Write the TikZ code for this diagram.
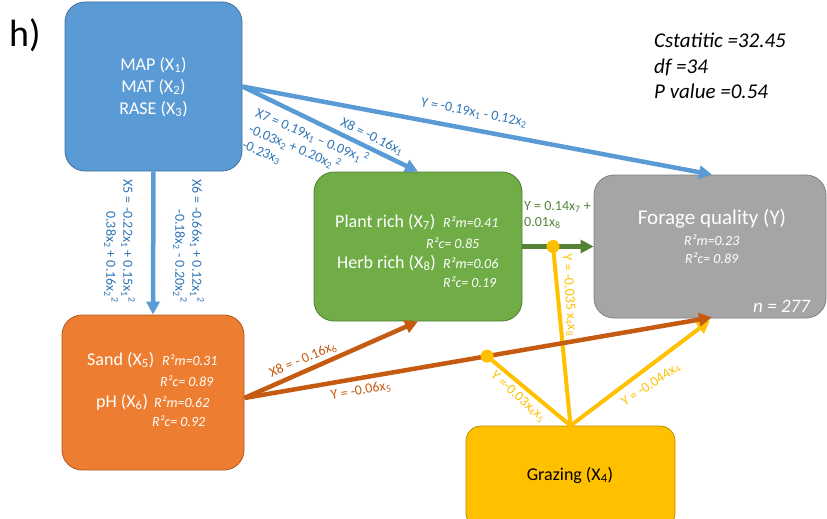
\documentclass[tikz,border=0pt]{standalone}
\usepackage{fontspec}
\setmainfont{Carlito}
\usetikzlibrary{arrows.meta,calc}

\definecolor{cblue}{HTML}{5B9BD5}
\definecolor{cblueline}{HTML}{41719C}
\definecolor{cbluetext}{HTML}{2E75B6}
\definecolor{cgreen}{HTML}{70AD47}
\definecolor{cgreenline}{HTML}{507E32}
\definecolor{cgreendark}{HTML}{548235}
\definecolor{corange}{HTML}{ED7D31}
\definecolor{corangeline}{HTML}{AE5A21}
\definecolor{corangedark}{HTML}{C55A11}
\definecolor{cgray}{HTML}{A5A5A5}
\definecolor{cgrayline}{HTML}{7F7F7F}
\definecolor{cyellow}{HTML}{FFC000}
\definecolor{cyellowline}{HTML}{BC8C00}

\newcommand\sbx[1]{\textsubscript{#1}}
\newcommand\spx[1]{\textsuperscript{#1}}

\begin{document}
\begin{tikzpicture}[x=1pt,y=-1pt,
  box/.style={draw, line width=0.8pt, rounded corners=20pt, inner sep=0pt},
  maintxt/.style={font=\fontsize{18}{22}\selectfont, text=white, inner sep=0pt, anchor=west},
  rsq/.style={font=\fontsize{14}{16}\selectfont\itshape, text=white, inner sep=0pt, anchor=west},
  lbl/.style={font=\fontsize{14}{17}\selectfont, inner sep=0pt},
  stat/.style={font=\fontsize{21}{25}\selectfont\itshape, inner sep=0pt, anchor=base west},
  arr/.style={line width=4.5pt, -{Triangle[length=13pt,width=13pt]}},
  yline/.style={line width=4pt, cyellow},
  dot/.style={circle, fill=cyellow, minimum size=13pt, inner sep=0pt}]

\useasboundingbox (0,0) rectangle (827,519);
\clip (0,0) rectangle (827,519);

% boxes
\node[box, fill=cblue, draw=cblueline, minimum width=177pt, minimum height=169pt] (blue) at (153.5,86.5) {};
\node[box, fill=cgreen, draw=cgreenline, minimum width=208pt, minimum height=149pt] (green) at (418,246.5) {};
\node[box, fill=cgray, draw=cgrayline, minimum width=232pt, minimum height=143pt] (gray) at (710,246.5) {};
\node[box, fill=corange, draw=corangeline, minimum width=182pt, minimum height=155pt] (orange) at (153,392.5) {};
\node[box, rounded corners=15pt, fill=cyellow, draw=cyellowline, minimum width=209pt, minimum height=102pt] (yellow) at (570.5,477) {};

% connection points
\coordinate (oOut) at ([yshift=-5.5pt]orange.east);
\coordinate (gIn) at ([xshift=2pt,yshift=1pt]gray.south);
\coordinate (dG) at ($(green.east)!0.43!(gray.west)$);
\coordinate (dO) at ($(oOut)!0.519!(gIn)$);

% blue paths
\draw[arr, cblue] (blue.south) -- (orange.north);
\draw[arr, cblue] (blue.east) -- (green.north);
\draw[arr, cblue] (blue.east) -- ([xshift=2pt]gray.north);
% green path
\draw[arr, cgreendark] (green.east) -- (gray.west);
% grazing paths
\draw[yline] (yellow.north) -- (dG);
\draw[yline] (yellow.north) -- (dO);
\draw[yline, -{Triangle[length=13pt,width=13pt]}] (yellow.north) -- ([yshift=-2pt]gray.south);
% soil paths
\draw[arr, corangedark] (oOut) -- (green.south);
\draw[arr, corangedark] (oOut) -- (gIn);
% interaction dots
\node[dot] (dotG) at (dG) {};
\node[dot] (dotO) at (dO) {};

% box texts
\node[maintxt, anchor=center, align=center] (bluetxt) at (153.5,87) {MAP (X\sbx{1})\\MAT (X\sbx{2})\\RASE (X\sbx{3})};

\node[maintxt] (gt1) at (335,222) {Plant rich (X\sbx{7})};
\node[rsq] (gt2) at (443,222) {R²m=0.41};
\node[rsq] (gt3) at (426,243) {R²c= 0.85};
\node[maintxt] (gt4) at (337,263) {Herb rich (X\sbx{8})};
\node[rsq] (gt5) at (443,263) {R²m=0.06};
\node[rsq] (gt6) at (443,282) {R²c= 0.19};

\node[font=\fontsize{21}{25}\selectfont, text=white, inner sep=0pt] (yt1) at (712,219) {Forage quality (Y)};
\node[rsq] (yt2) at (684,240) {R²m=0.23};
\node[rsq] (yt3) at (685,258) {R²c= 0.89};
\node[rsq, font=\fontsize{19}{22}\selectfont\itshape] (yt4) at (753,306) {n = 277};

\node[maintxt] (ot1) at (87,360) {Sand (X\sbx{5})};
\node[rsq] (ot2) at (162,360) {R²m=0.31};
\node[rsq] (ot3) at (160,381) {R²c= 0.89};
\node[maintxt] (ot4) at (96,402) {pH (X\sbx{6})};
\node[rsq] (ot5) at (154,402) {R²m=0.62};
\node[rsq] (ot6) at (152,421) {R²c= 0.92};

\node[font=\fontsize{18}{22}\selectfont, inner sep=0pt] (grz) at (570,475) {Grazing (X\sbx{4})};

% panel tag and fit statistics
\node[font=\fontsize{38}{42}\selectfont, inner sep=0pt, anchor=base west] (tag) at (9,47) {h)};
\node[stat] (st1) at (654,48) {Cstatitic =32.45};
\node[stat] (st2) at (654,74) {df =34};
\node[stat] (st3) at (654,98) {P value =0.54};

% path coefficients
\node[lbl, text=cbluetext, rotate=-11] (l1) at (474,113) {Y = -0.19x\sbx{1} - 0.12x\sbx{2}};
\node[lbl, text=cbluetext, rotate=-26] (l2) at (372,137) {X8 = -0.16x\sbx{1}};
\node[lbl, text=cbluetext, rotate=-23, align=left, anchor=north west] (l3) at (259,106)
  {X7 = 0.19x\sbx{1} – 0.09x\sbx{1}\,\spx{2}\\-0.03x\sbx{2} + 0.20x\sbx{2}\,\spx{2}\\-0.23x\sbx{3}};
\node[lbl, text=cbluetext, rotate=-90, align=right, anchor=east] (l4) at (119.5,303)
  {X5 = -0.22x\sbx{1} + 0.15x\sbx{1}\spx{2}\\0.38x\sbx{2} + 0.16x\sbx{2}\spx{2}};
\node[lbl, text=cbluetext, rotate=-90, align=right, anchor=east] (l5) at (188.5,303)
  {X6 = -0.66x\sbx{1} + 0.12x\sbx{1}\spx{2}\\-0.18x\sbx{2} - 0.20x\sbx{2}\spx{2}};
\node[lbl, text=cgreendark, align=left, anchor=west, font=\fontsize{14}{16.5}\selectfont] (l6) at (524,215)
  {Y = 0.14x\sbx{7} +\\0.01x\sbx{8}};
\node[lbl, text=cyellow, rotate=-86] (l7) at (569,295) {Y = -0.035 x\sbx{4}x\sbx{8}};
\node[lbl, text=cyellow, rotate=-42] (l8) at (518,397) {Y =-0.03x\sbx{4}x\sbx{5}};
\node[lbl, text=cyellow, rotate=34] (l9) at (651,385) {Y = -0.044x\sbx{4}};
\node[lbl, text=corangedark, rotate=23] (l10) at (303,360) {X8 = - 0.16x\sbx{6}};
\node[lbl, text=corangedark, rotate=10] (l11) at (361,391) {Y = -0.06x\sbx{5}};
\end{tikzpicture}
\end{document}
